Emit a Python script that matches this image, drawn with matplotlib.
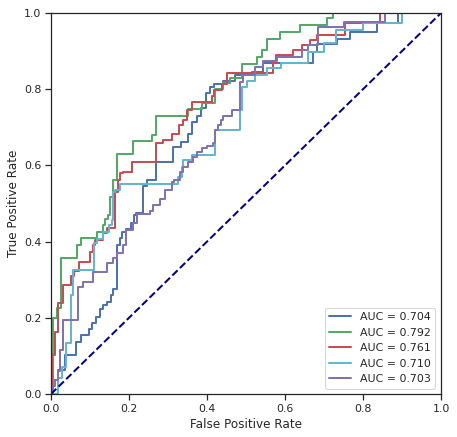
import matplotlib
matplotlib.use("Agg")
import matplotlib.pyplot as plt
import seaborn as sns

sns.set_theme(style="ticks", context="notebook")
plt.rcParams['font.family'] = ['DejaVu Sans']

labels = ["AUC = 0.704", "AUC = 0.792", "AUC = 0.761", "AUC = 0.710", "AUC = 0.703"]
colors = ["#4C72B0", "#55A868", "#C44E52", "#64B5CD", "#8172B2"]

fpr_blue = [0, 0.003, 0.018, 0.035, 0.065, 0.078, 0.097, 0.106, 0.116, 0.125, 0.133, 0.143, 0.153, 0.159,
            0.169, 0.176, 0.182, 0.192, 0.204, 0.213, 0.219, 0.235, 0.245, 0.269, 0.312, 0.333, 0.351,
            0.361, 0.374, 0.385, 0.397, 0.408, 0.418, 0.44, 0.472, 0.515, 0.544, 0.673, 0.682, 0.733,
            0.767, 0.835, 0.890, 1.0]
tpr_blue = [0, 0.037, 0.063, 0.102, 0.137, 0.155, 0.171, 0.186, 0.202, 0.223, 0.234, 0.242, 0.260, 0.275,
            0.391, 0.409, 0.426, 0.433, 0.449, 0.470, 0.476, 0.547, 0.562, 0.610, 0.649, 0.662, 0.682,
            0.713, 0.730, 0.750, 0.789, 0.805, 0.814, 0.822, 0.837, 0.846, 0.868, 0.898, 0.919, 0.933,
            0.951, 0.973, 1.0, 1.0]

fpr_green = [0, 0.006, 0.015, 0.025, 0.066, 0.076, 0.117, 0.134, 0.138, 0.147, 0.151, 0.160, 0.168,
             0.209, 0.258, 0.269, 0.351, 0.386, 0.421, 0.44, 0.46, 0.489, 0.528, 0.541, 0.553, 0.587,
             0.638, 0.707, 0.723, 1.0]
tpr_green = [0, 0.199, 0.225, 0.358, 0.391, 0.410, 0.426, 0.444, 0.459, 0.470, 0.518, 0.562, 0.629,
             0.664, 0.680, 0.730, 0.748, 0.763, 0.800, 0.815, 0.829, 0.867, 0.885, 0.902, 0.933, 0.951,
             0.969, 0.986, 1.0, 1.0]

fpr_red = [0, 0.002, 0.009, 0.019, 0.030, 0.051, 0.059, 0.073, 0.100, 0.108, 0.113, 0.134, 0.143, 0.164,
           0.173, 0.177, 0.185, 0.207, 0.269, 0.288, 0.309, 0.329, 0.338, 0.349, 0.361, 0.412, 0.418,
           0.438, 0.451, 0.570, 0.577, 0.621, 0.643, 0.664, 0.681, 0.754, 0.844, 1.0]
tpr_red = [0, 0.102, 0.164, 0.238, 0.286, 0.310, 0.323, 0.347, 0.373, 0.391, 0.404, 0.422, 0.435, 0.531,
           0.562, 0.579, 0.582, 0.608, 0.658, 0.667, 0.682, 0.706, 0.719, 0.745, 0.767, 0.782, 0.798,
           0.814, 0.842, 0.868, 0.890, 0.903, 0.916, 0.929, 0.942, 0.973, 1.0, 1.0]

fpr_cyan = [0, 0.018, 0.027, 0.038, 0.052, 0.057, 0.110, 0.117, 0.134, 0.149, 0.156, 0.160, 0.164, 0.177,
            0.326, 0.335, 0.339, 0.361, 0.421, 0.485, 0.489, 0.502, 0.523, 0.553, 0.591, 0.660, 0.700,
            0.730, 0.800, 0.900, 1.0]
tpr_cyan = [0, 0.041, 0.072, 0.133, 0.260, 0.325, 0.396, 0.406, 0.426, 0.444, 0.457, 0.531, 0.535, 0.551,
            0.570, 0.597, 0.614, 0.627, 0.693, 0.745, 0.807, 0.822, 0.837, 0.855, 0.870, 0.898, 0.920,
            0.955, 0.973, 1.0, 1.0]

fpr_purple = [0, 0.005, 0.011, 0.017, 0.022, 0.031, 0.070, 0.081, 0.107, 0.143, 0.160, 0.168, 0.184, 0.192,
              0.209, 0.221, 0.254, 0.262, 0.279, 0.292, 0.309, 0.316, 0.331, 0.339, 0.352, 0.365, 0.374,
              0.386, 0.400, 0.415, 0.421, 0.429, 0.435, 0.442, 0.463, 0.485, 0.493, 0.523, 0.544, 0.579,
              0.643, 0.660, 0.685, 0.750, 0.856, 1.0]
tpr_purple = [0, 0.020, 0.037, 0.060, 0.115, 0.194, 0.282, 0.295, 0.321, 0.345, 0.356, 0.370, 0.391, 0.430,
              0.448, 0.472, 0.481, 0.496, 0.513, 0.535, 0.557, 0.562, 0.583, 0.597, 0.610, 0.623, 0.636,
              0.645, 0.650, 0.658, 0.693, 0.706, 0.719, 0.730, 0.745, 0.820, 0.837, 0.859, 0.873, 0.885,
              0.903, 0.916, 0.964, 0.977, 1.0, 1.0]

curves = [(fpr_blue, tpr_blue), (fpr_green, tpr_green), (fpr_red, tpr_red),
          (fpr_cyan, tpr_cyan), (fpr_purple, tpr_purple)]

W, H, DPI = 457, 437, 72
fig = plt.figure(figsize=(W / DPI, H / DPI), dpi=DPI)
ax = fig.add_axes([51 / W, (H - 394) / H, (441 - 51) / W, (394 - 13) / H])

for (fx, ty), c, lab in zip(curves, colors, labels):
    ax.plot(fx, ty, drawstyle="steps-post", color=c, lw=2, label=lab)

ax.plot([0, 1], [0, 1], color="navy", lw=2, linestyle="--")

ax.set_xlim(0, 1)
ax.set_ylim(0, 1)
ax.set_xlabel("False Positive Rate", fontsize=12)
ax.set_ylabel("True Positive Rate", fontsize=12)
ax.tick_params(labelsize=11)
ax.legend(loc="lower right", fontsize=11)

fig.savefig("out.png", dpi=DPI)
